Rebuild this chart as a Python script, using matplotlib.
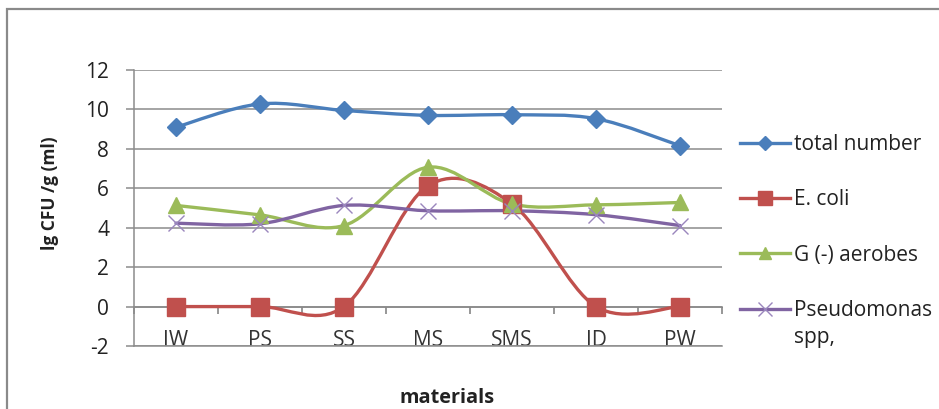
import matplotlib
matplotlib.use('Agg')
import matplotlib.pyplot as plt
from matplotlib.path import Path
from matplotlib.patches import PathPatch, Rectangle
from matplotlib.lines import Line2D

categories = ['IW', 'PS', 'SS', 'MS', 'SMS', 'ID', 'PW']
total_number = [9.1, 10.28, 9.95, 9.7, 9.73, 9.53, 8.16]
e_coli = [0, 0, 0, 6.13, 5.21, 0, 0]
g_aerobes = [5.13, 4.65, 4.11, 7.07, 5.2, 5.16, 5.28]
pseudomonas = [4.23, 4.2, 5.13, 4.86, 4.86, 4.66, 4.11]
series_names = ['total number', 'E. coli', 'G (-) aerobes', 'Pseudomonas']
last_name_tail = 'spp,'
y_ticks = [-2, 0, 2, 4, 6, 8, 10, 12]

plt.rcParams['font.family'] = ['Open Sans', 'DejaVu Sans']
plt.rcParams['axes.unicode_minus'] = False

W, H = 939, 409
FS = 15.0
fig = plt.figure(figsize=(W / 100, H / 100), dpi=100)
fig.patch.set_facecolor('white')

# outer chart border
fig.patches.append(Rectangle((7 / W, -0.2), 2.0, (H - 9) / H + 0.2,
                             transform=fig.transFigure, fill=False,
                             edgecolor='#8a8a8a', linewidth=1.6))

ax = fig.add_axes([134 / W, 63 / H, 588 / W, 276 / H])
ax.set_xlim(-0.5, len(categories) - 0.5)
ax.set_ylim(-2, 12)

grid_c = '#8c8c8c'
ax.set_yticks(y_ticks)
ax.yaxis.grid(True, color=grid_c, linewidth=1.1)
ax.set_axisbelow(True)
for s in ['top', 'right']:
    ax.spines[s].set_visible(False)
ax.spines['left'].set_color(grid_c)
ax.spines['left'].set_linewidth(1.1)
ax.spines['bottom'].set_color(grid_c)
ax.spines['bottom'].set_linewidth(1.1)
ax.tick_params(axis='y', length=6, width=1.1, color=grid_c, pad=12,
               labelsize=FS, labelcolor='#222222')
ax.set_xticks(range(len(categories)))
ax.set_xticklabels(categories)
ax.tick_params(axis='x', length=0, pad=-11.5, labelsize=FS, labelcolor='#333333')

# horizontal category axis crossing at y=0
sec = ax.secondary_xaxis(2 / 14)
sec.spines['bottom'].set_color('#7a7a7a')
sec.spines['bottom'].set_linewidth(1.1)
sec.set_xticks([i - 0.5 for i in range(len(categories) + 1)])
sec.set_xticklabels([])
sec.tick_params(axis='x', length=5, width=1.1, color='#7a7a7a', direction='out')


def smooth_path(xs, ys):
    verts = [(xs[0], ys[0])]
    codes = [Path.MOVETO]
    n = len(xs)
    for i in range(n - 1):
        p0 = i - 1 if i > 0 else i
        p3 = i + 2 if i + 2 < n else i + 1
        c1 = (xs[i] + (xs[i + 1] - xs[p0]) / 6, ys[i] + (ys[i + 1] - ys[p0]) / 6)
        c2 = (xs[i + 1] - (xs[p3] - xs[i]) / 6, ys[i + 1] - (ys[p3] - ys[i]) / 6)
        verts += [c1, c2, (xs[i + 1], ys[i + 1])]
        codes += [Path.CURVE4] * 3
    return Path(verts, codes)


colors = ['#4A7EBB', '#C0504D', '#9BBB59', '#8064A2']
markers = ['D', 's', '^', 'x']
msizes = [9, 13, 12, 12]
all_series = [total_number, e_coli, g_aerobes, pseudomonas]
xs = list(range(len(categories)))
handles = []
for vals, c, m, ms, name in zip(all_series, colors, markers, msizes, series_names):
    ax.add_patch(PathPatch(smooth_path(xs, vals), facecolor='none', edgecolor=c,
                           linewidth=2.4, zorder=3, capstyle='round', joinstyle='round'))
    if m == 'x':
        ax.plot(xs, vals, linestyle='none', marker=m, markersize=ms, color='#9a86bd',
                markeredgewidth=1.0, zorder=4)
        handles.append(Line2D([], [], color=c, linewidth=2.4, marker=m, markersize=ms * 0.8,
                              markeredgecolor='#9a86bd', markeredgewidth=1.0))
    else:
        ax.plot(xs, vals, linestyle='none', marker=m, markersize=ms, color=c, zorder=4)
        handles.append(Line2D([], [], color=c, linewidth=2.4, marker=m, markersize=ms * 0.75))

leg = fig.legend(handles, series_names, loc='upper left',
                 bbox_to_anchor=(740 / W, 1 - 134 / H), frameon=False,
                 fontsize=FS, handlelength=2.4, handletextpad=0.18,
                 labelspacing=1.65, borderpad=0, borderaxespad=0)
for t in leg.get_texts():
    t.set_color('#222222')
fig.text(794 / W, 1 - 337 / H, last_name_tail, ha='left', va='center',
         fontsize=FS, color='#222222')

fig.text(50 / W, 1 - 193 / H, 'lg CFU /g (ml)', rotation=90, ha='center', va='center',
         fontsize=12.5, fontweight='bold', color='#222222')
fig.text(447 / W, 1 - 398 / H, 'materials', ha='center', va='center',
         fontsize=14.3, fontweight='bold', color='#222222')

fig.savefig('out.png', dpi=100)
